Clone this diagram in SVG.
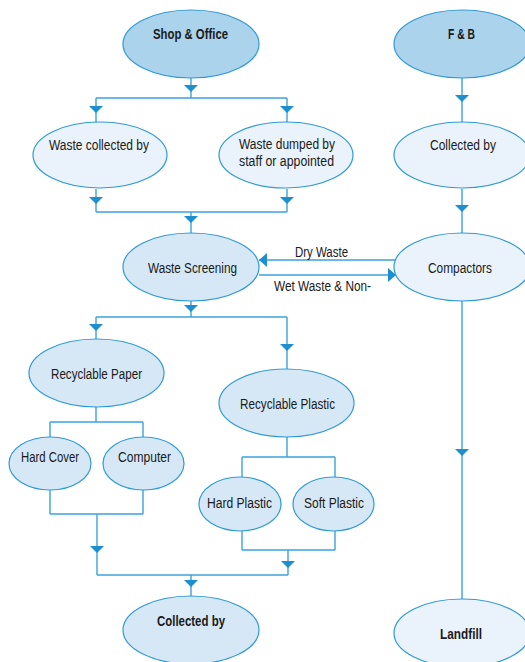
<svg xmlns="http://www.w3.org/2000/svg" width="525" height="662" viewBox="0 0 525 662">
<style>
.n ellipse{stroke:#2f9ad6;stroke-width:1.2}
.d{fill:#acd3ec}.m{fill:#d6e8f5}.l{fill:#eaf3fb}
text{font-family:"Liberation Sans Narrow","Liberation Sans",Arial,sans-serif;font-size:15.5px;fill:#1a1a1a;text-anchor:middle}
.b{font-weight:bold}
#connectors path{fill:none;stroke:#3ba3dc;stroke-width:1.4}
#connectors polygon{fill:#1b8fcf}
</style>
<g id="connectors">
<path d="M191 78V98M96 98H287M96 98V122M287 98V122"/>
<path d="M96 189V212M287 189V212M96 212H287M191 212V233"/>
<path d="M462 78V122M462 189V233"/>
<path d="M396 260H259M259 275H396"/>
<path d="M191 300V317M96 317H287M96 317V339M287 317V369"/>
<path d="M96 407V422M50 422H143M50 422V437M143 422V437"/>
<path d="M287 437V457M242 457H335M242 457V477M335 457V477"/>
<path d="M50 490V514M143 490V514M50 514H143M97 514V575"/>
<path d="M242 531V550M335 531V550M242 550H335M288 550V575"/>
<path d="M97 575H288M191 575V596"/>
<path d="M462 300V599"/>
<polygon points="184,85 198,85 191,92"/>
<polygon points="89,106 103,106 96,113"/>
<polygon points="280,106 294,106 287,113"/>
<polygon points="89,197 103,197 96,204"/>
<polygon points="280,197 294,197 287,204"/>
<polygon points="184,216 198,216 191,223"/>
<polygon points="455,95 469,95 462,102"/>
<polygon points="455,205 469,205 462,212"/>
<polygon points="267,253 267,267 259,260"/>
<polygon points="388,268 388,282 396,275"/>
<polygon points="184,305 198,305 191,312"/>
<polygon points="89,324 103,324 96,331"/>
<polygon points="280,344 294,344 287,351"/>
<polygon points="455,449 469,449 462,456"/>
<polygon points="90,546 104,546 97,553"/>
<polygon points="281,561 295,561 288,568"/>
<polygon points="184,580 198,580 191,587"/>
</g>
<text x="321.5" y="257" textLength="53" lengthAdjust="spacingAndGlyphs">Dry Waste</text>
<text x="322.5" y="291" textLength="97" lengthAdjust="spacingAndGlyphs">Wet Waste &amp; Non-</text>
<g id="shop" class="n"><ellipse class="d" cx="191" cy="44" rx="68" ry="34"/><text class="b" x="190.5" y="39" textLength="75" lengthAdjust="spacingAndGlyphs">Shop &amp; Office</text></g>
<g id="fb" class="n"><ellipse class="d" cx="462" cy="44" rx="68" ry="34"/><text class="b" x="461.5" y="39" textLength="27" lengthAdjust="spacingAndGlyphs">F &amp; B</text></g>
<g id="wcollected" class="n"><ellipse class="l" cx="100" cy="155" rx="67" ry="33"/><text x="99" y="149.5" textLength="100" lengthAdjust="spacingAndGlyphs">Waste collected by</text></g>
<g id="wdumped" class="n"><ellipse class="l" cx="286" cy="155" rx="67" ry="33"/><text x="287" y="148.5" textLength="96" lengthAdjust="spacingAndGlyphs">Waste dumped by</text><text x="286.5" y="165.5" textLength="95" lengthAdjust="spacingAndGlyphs">staff or appointed</text></g>
<g id="fbcollected" class="n"><ellipse class="l" cx="462" cy="155" rx="68" ry="33"/><text x="463" y="149.5" textLength="66" lengthAdjust="spacingAndGlyphs">Collected by</text></g>
<g id="screening" class="n"><ellipse class="m" cx="191" cy="267" rx="68" ry="34"/><text x="192.5" y="272.5" textLength="89" lengthAdjust="spacingAndGlyphs">Waste Screening</text></g>
<g id="compactors" class="n"><ellipse class="l" cx="462" cy="267" rx="68" ry="34"/><text x="460" y="272.5" textLength="64" lengthAdjust="spacingAndGlyphs">Compactors</text></g>
<g id="rpaper" class="n"><ellipse class="m" cx="96.5" cy="373" rx="67.5" ry="34"/><text x="96.5" y="378.5" textLength="91" lengthAdjust="spacingAndGlyphs">Recyclable Paper</text></g>
<g id="rplastic" class="n"><ellipse class="m" cx="286.5" cy="403" rx="67.5" ry="34"/><text x="287.5" y="408.5" textLength="95" lengthAdjust="spacingAndGlyphs">Recyclable Plastic</text></g>
<g id="hardcover" class="n"><ellipse class="m" cx="50" cy="463.5" rx="41" ry="26.5"/><text x="50" y="461.5" textLength="58" lengthAdjust="spacingAndGlyphs">Hard Cover</text></g>
<g id="computer" class="n"><ellipse class="m" cx="143.5" cy="463.5" rx="40.5" ry="26.5"/><text x="144.5" y="461.5" textLength="53" lengthAdjust="spacingAndGlyphs">Computer</text></g>
<g id="hardplastic" class="n"><ellipse class="m" cx="240" cy="504" rx="41" ry="27"/><text x="239.5" y="507.5" textLength="65" lengthAdjust="spacingAndGlyphs">Hard Plastic</text></g>
<g id="softplastic" class="n"><ellipse class="m" cx="333.5" cy="504" rx="40.5" ry="27"/><text x="334" y="507.5" textLength="60" lengthAdjust="spacingAndGlyphs">Soft Plastic</text></g>
<g id="bcollected" class="n"><ellipse class="m" cx="191" cy="630" rx="68" ry="34"/><text class="b" x="191" y="625.5" textLength="68" lengthAdjust="spacingAndGlyphs">Collected by</text></g>
<g id="landfill" class="n"><ellipse class="l" cx="462" cy="633" rx="68" ry="34"/><text class="b" x="461" y="638.5" textLength="42" lengthAdjust="spacingAndGlyphs">Landfill</text></g>
</svg>
